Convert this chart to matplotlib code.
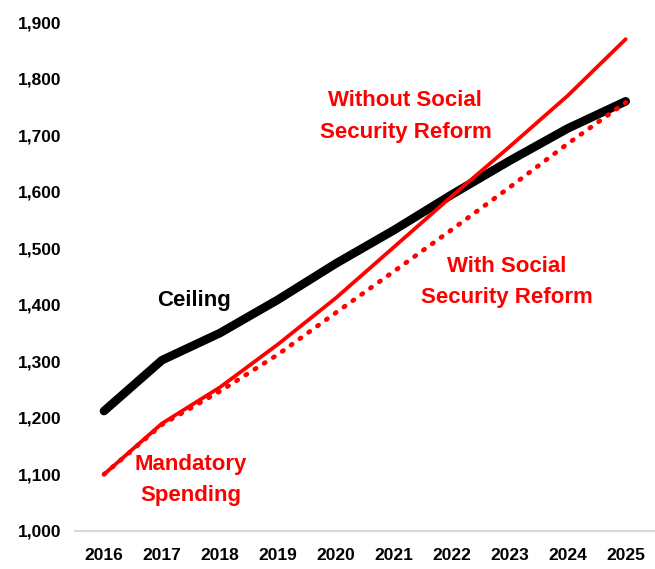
import matplotlib.pyplot as plt

years = [2016, 2017, 2018, 2019, 2020, 2021, 2022, 2023, 2024, 2025]
ceiling = [1212, 1302, 1350, 1409, 1473, 1532, 1595, 1655, 1712, 1760]
without_reform = [1100, 1190, 1254, 1330, 1412, 1502, 1592, 1680, 1770, 1870]
with_reform = [1100, 1188, 1247, 1312, 1386, 1459, 1533, 1608, 1685, 1758]
yticks = [1000, 1100, 1200, 1300, 1400, 1500, 1600, 1700, 1800, 1900]

plt.rcParams['font.family'] = ['Liberation Sans', 'DejaVu Sans']
plt.rcParams['font.weight'] = 'bold'

fig = plt.figure(figsize=(6.55, 5.69), dpi=100)
ax = fig.add_axes([0.1145, 0.067, 0.885, 0.894])

ax.plot(years, ceiling, color='black', lw=6.2, solid_capstyle='round', solid_joinstyle='round', zorder=2)
ax.plot(years, with_reform, color='#ff0000', lw=3.4, linestyle=(0, (0.3, 2.0)),
        dash_capstyle='round', zorder=3)
ax.plot(years, without_reform, color='#ff0000', lw=2.7, solid_capstyle='round', zorder=4)

ax.set_xlim(2015.5, 2025.5)
ax.set_ylim(1000, 1900)
ax.set_xticks(years)
ax.set_yticks(yticks)
ax.set_yticklabels([f'{v:,}' for v in yticks])
ax.tick_params(axis='both', length=0, labelsize=12.5)
ax.tick_params(axis='x', pad=12)
ax.tick_params(axis='y', pad=10)
for lab in ax.get_xticklabels() + ax.get_yticklabels():
    lab.set_fontweight('bold')

for s in ['top', 'right', 'left']:
    ax.spines[s].set_visible(False)
ax.spines['bottom'].set_color('#d9d9d9')
ax.spines['bottom'].set_linewidth(1.5)

kw = dict(fontsize=16, fontweight='bold', ha='center', va='center', linespacing=1.65)
ax.text(2021.2, 1733, 'Without Social\nSecurity Reform', color='#ff0000', **kw)
ax.text(2022.95, 1440, 'With Social\nSecurity Reform', color='#ff0000', **kw)
ax.text(2017.55, 1408, 'Ceiling', color='black', **kw)
ax.text(2017.5, 1090, 'Mandatory\nSpending', color='#ff0000', **kw)

fig.savefig('out.png', dpi=100)
